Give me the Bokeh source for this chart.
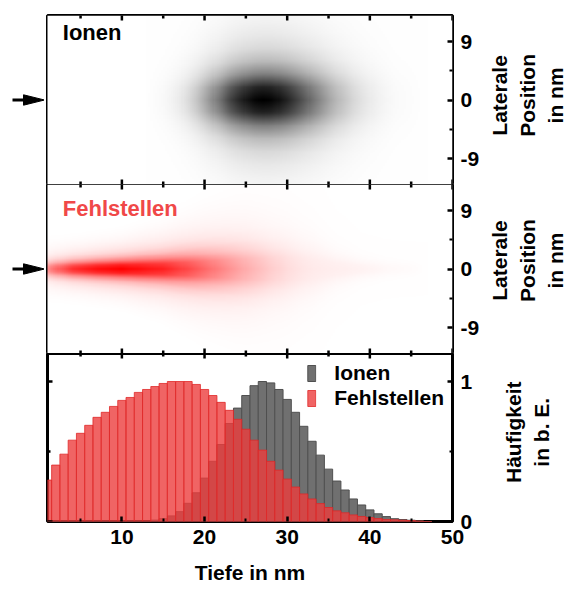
import math
import numpy as np
from bokeh.plotting import figure
from bokeh.layouts import column, row
from bokeh.models import (Range1d, LinearAxis, FixedTicker, Label, Legend,
                          LegendItem, Spacer)
from bokeh.embed import file_html
from bokeh.resources import INLINE

FONT = "Liberation Sans"

# ---------------- data ----------------
depth_nm = list(range(1, 48))          # histogram bin centres (nm)

ionen = [0, 0, 0, 0, 0, 0, 0, 0, 0, 0, 0, 0, 0,
         0.01, 0.02, 0.04, 0.07, 0.13, 0.205, 0.31, 0.43, 0.55, 0.70,
         0.81, 0.90, 0.97, 1.0, 0.99, 0.943, 0.872, 0.78, 0.68, 0.573,
         0.474, 0.374, 0.289, 0.225, 0.161, 0.118, 0.083, 0.055, 0.035,
         0.02, 0.014, 0.009, 0.004, 0.0]

fehlstellen = [0.296, 0.403, 0.481, 0.581, 0.630, 0.687, 0.744, 0.780, 0.822, 0.865,
               0.886, 0.922, 0.943, 0.964, 0.986, 1.0, 1.0, 1.0, 0.979, 0.943,
               0.900, 0.851, 0.794, 0.730, 0.659, 0.581, 0.51, 0.43, 0.367, 0.303,
               0.246, 0.197, 0.161, 0.128, 0.10, 0.076, 0.062, 0.047, 0.036, 0.028,
               0.021, 0.014, 0.012, 0.009, 0.007, 0.003, 0.0]

# lateral spread (half width, nm) versus depth
ion_w_depth = [10, 15, 20, 25, 30, 35, 40, 45]
ion_w = [3.4, 3.5, 3.7, 3.9, 4.0, 4.1, 4.1, 4.1]
def_w_depth = [1, 5, 10, 15, 20, 25, 30, 33, 36, 39, 42, 47]
def_w = [1.0, 1.1, 1.3, 1.7, 2.4, 3.1, 3.4, 3.0, 1.8, 1.1, 0.9, 0.8]

# lateral profile shape (relative intensity vs. lateral distance / half width)
lat_u = [0, 0.5, 1.0, 1.5, 2.0, 2.5, 3.0, 3.5, 4.0, 4.5, 5.0]
lat_profile = [1.0, 0.86, 0.5, 0.27, 0.15, 0.09, 0.055, 0.032, 0.016, 0.006, 0.0]

x_ticks = [10, 20, 30, 40, 50]
x_minor = [5, 15, 25, 35, 45]
lat_ticks = [-9, 0, 9]
lat_labels = {-9: "-9", 0: "0", 9: "9"}
lat_minor = [-4.5, 4.5]
h_ticks = [0, 1]
h_minor = [0.5]

# ---------------- derived maps ----------------
DX, DY = 0.25, 0.1
gx = np.arange(0.5 + DX / 2, 50, DX)
gy = np.arange(-13 + DY / 2, 13, DY)
GX, GY = np.meshgrid(gx, gy)


def density(hist, wd, wv):
    n = np.interp(GX, depth_nm, hist, left=hist[0], right=0.0)
    w = np.interp(GX, wd, wv)
    d = n / w * np.interp(np.abs(GY) / w, lat_u, lat_profile, right=0.0)
    return d / d.max()


def to_rgba(r, g, b):
    img = np.empty(r.shape, dtype=np.uint32)
    v = img.view(dtype=np.uint8).reshape(r.shape + (4,))
    v[..., 0] = r
    v[..., 1] = g
    v[..., 2] = b
    v[..., 3] = 255
    return img


d_ion = density(ionen, ion_w_depth, ion_w)
gray = np.clip(255 * (1 - d_ion), 0, 255).astype(np.uint8)
img_ion = to_rgba(gray, gray, gray)

d_def = density(fehlstellen, def_w_depth, def_w)
gb = np.clip(255 * (1 - d_def), 0, 255).astype(np.uint8)
img_def = to_rgba(np.full_like(gb, 255), gb, gb)

img_x0 = gx[0] - DX / 2
img_y0 = gy[0] - DY / 2
img_dw = gx[-1] - gx[0] + DX
img_dh = gy[-1] - gy[0] + DY

# ---------------- layout geometry ----------------
xr = Range1d(1, 50)
LEFT_W = 44          # column holding the entry arrows
TITLE_W = 87         # column holding the rotated side titles
P_BL, P_BR = 3, 35
P_W = P_BL + 405 + P_BR


def make_fig(yr, h, top, bottom):
    p = figure(x_range=xr, y_range=yr, width=P_W, height=h,
               output_backend="svg", toolbar_location=None,
               x_axis_location=None, y_axis_location=None,
               min_border_left=P_BL, min_border_right=P_BR,
               min_border_top=top, min_border_bottom=bottom)
    p.outline_line_color = "black"
    p.outline_line_width = 3
    p.xgrid.visible = False
    p.ygrid.visible = False
    return p


def blank_fig(w, h, xrange, yrange, top=0, bottom=0):
    f = figure(width=w, height=h, x_range=xrange, y_range=yrange,
               output_backend="svg", toolbar_location=None,
               x_axis_location=None, y_axis_location=None,
               min_border_left=0, min_border_right=0,
               min_border_top=top, min_border_bottom=bottom)
    f.outline_line_color = None
    f.xgrid.visible = False
    f.ygrid.visible = False
    return f


def tick_marks(p, xs, ys, size, angle):
    p.scatter(x=xs, y=ys, marker="dash", angle=angle, size=size,
              line_color="black", line_width=2.5)


def x_edge_ticks(p, y):
    tick_marks(p, x_ticks, [y] * len(x_ticks), 10, math.pi / 2)
    tick_marks(p, x_minor, [y] * len(x_minor), 6, math.pi / 2)


def label_axis(p, side, ticks, minor, axis_label=None, standoff=8,
               label_standoff=10, overrides=None):
    ax = LinearAxis(ticker=FixedTicker(ticks=ticks, minor_ticks=minor))
    ax.major_tick_in = 5
    ax.major_tick_out = 0
    ax.minor_tick_in = 3
    ax.minor_tick_out = 0
    ax.major_tick_line_width = 2.5
    ax.minor_tick_line_width = 2
    ax.axis_line_color = None
    ax.major_label_text_font = FONT
    ax.major_label_text_font_style = "bold"
    ax.major_label_text_font_size = "21px"
    ax.major_label_text_color = "black"
    ax.major_label_standoff = standoff
    if overrides:
        ax.major_label_overrides = overrides
    if axis_label:
        ax.axis_label = axis_label
        ax.axis_label_text_font = FONT
        ax.axis_label_text_font_style = "bold"
        ax.axis_label_text_font_size = "21px"
        ax.axis_label_text_color = "black"
        ax.axis_label_standoff = label_standoff
    p.add_layout(ax, side)
    return ax


def title_fig(h, cy, text):
    f = blank_fig(TITLE_W, h, Range1d(0, TITLE_W), Range1d(0, h))
    f.add_layout(Label(x=40, y=cy, text=text, angle=math.pi / 2,
                       text_align="center", text_baseline="middle",
                       text_font=FONT, text_font_style="bold",
                       text_font_size="21px", text_color="black",
                       text_line_height=1.2))
    return f


def arrow_fig(h, yr, top):
    f = blank_fig(LEFT_W, h, Range1d(0, LEFT_W), yr, top=top)
    # shaft and narrow filled head, pointing at lateral position 0
    f.segment(x0=12, y0=0, x1=26, y1=0, line_color="black", line_width=3)
    f.patch(x=[23, 44, 23], y=[0.8, 0.0, -0.8], fill_color="black",
            line_color="black", line_width=1)
    return f


# --- top: Ionen map
yr1 = Range1d(-13, 13)
p1 = make_fig(yr1, 184, 15, 0)
p1.image_rgba(image=[img_ion], x=img_x0, y=img_y0, dw=img_dw, dh=img_dh)
x_edge_ticks(p1, yr1.end)
x_edge_ticks(p1, yr1.start)
label_axis(p1, "right", lat_ticks, lat_minor, overrides=lat_labels)
p1.add_layout(Label(x=2.85, y=12.3, text="Ionen", text_baseline="top",
                    text_font=FONT, text_font_style="bold",
                    text_font_size="22px", text_color="black"))
row1 = row(arrow_fig(184, yr1, 15), p1,
           title_fig(184, 97, "Laterale\nPosition\nin nm"), spacing=0)

# --- middle: Fehlstellen map
yr2 = Range1d(-13, 13)
p2 = make_fig(yr2, 169, 0, 0)
p2.image_rgba(image=[img_def], x=img_x0, y=img_y0, dw=img_dw, dh=img_dh)
x_edge_ticks(p2, yr2.end)
x_edge_ticks(p2, yr2.start)
label_axis(p2, "right", lat_ticks, lat_minor, overrides=lat_labels)
p2.add_layout(Label(x=2.85, y=11.2, text="Fehlstellen", text_baseline="top",
                    text_font=FONT, text_font_style="bold",
                    text_font_size="22px", text_color="#F04848"))
row2 = row(arrow_fig(169, yr2, 0), p2,
           title_fig(169, 93, "Laterale\nPosition\nin nm"), spacing=0)

# --- bottom: histograms
yr3 = Range1d(0, 1.2)
p3 = make_fig(yr3, 239, 0, 71)
r_ion = p3.vbar(x=depth_nm, top=ionen, width=1, bottom=0,
                fill_color="#707070", line_color="#505050", line_width=1)
r_def = p3.vbar(x=depth_nm, top=fehlstellen, width=1, bottom=0,
                fill_color="#EC3D3D", fill_alpha=0.8,
                line_color="#E02828", line_alpha=0.8, line_width=1)
x_edge_ticks(p3, yr3.end)
tick_marks(p3, [xr.start] * len(h_ticks), h_ticks, 10, 0)
tick_marks(p3, [xr.start] * len(h_minor), h_minor, 6, 0)
label_axis(p3, "below", x_ticks, x_minor, axis_label="Tiefe in nm",
           standoff=8, label_standoff=14)
label_axis(p3, "right", h_ticks, h_minor)

legend = Legend(items=[LegendItem(label="Ionen", renderers=[r_ion]),
                       LegendItem(label="Fehlstellen", renderers=[r_def])],
                location="top_right", margin=8, padding=0, spacing=1,
                glyph_width=10, glyph_height=20, label_height=20,
                label_standoff=18, border_line_color=None,
                background_fill_alpha=0.0,
                label_text_font=FONT, label_text_font_style="bold",
                label_text_font_size="21px", label_text_color="black")
p3.add_layout(legend)
row3 = row(Spacer(width=LEFT_W, height=239), p3,
           title_fig(239, 127, "Häufigkeit\nin b. E."), spacing=0)

layout = column(row1, row2, row3, spacing=0)
open("out.html", "w").write(file_html(layout, INLINE))
